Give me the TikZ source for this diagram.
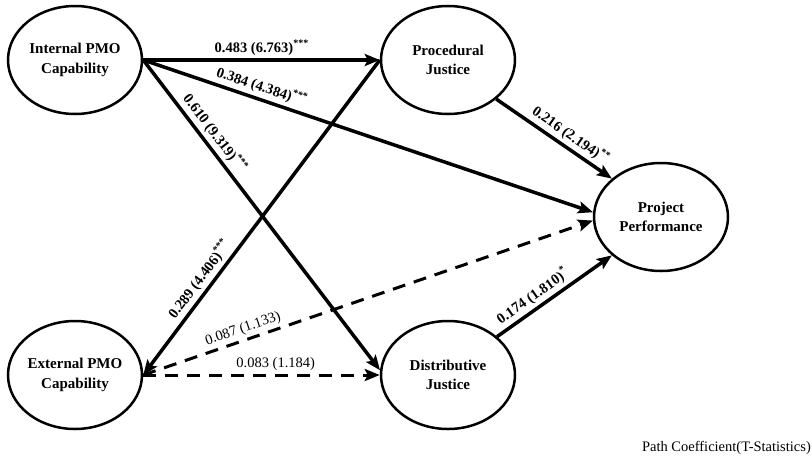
\documentclass[tikz,border=0pt]{standalone}
\usepackage{fontspec}
\setmainfont{Liberation Serif}
\usetikzlibrary{shapes.geometric,arrows.meta}
\newcommand\sigstars[1]{\raisebox{0.42em}{\fontsize{10}{10}\selectfont #1}}
\begin{document}
\begin{tikzpicture}[x=1pt,y=-1pt,
  construct/.style={ellipse,draw,line width=2.5pt,minimum width=134pt,minimum height=108pt,
    inner sep=0pt,align=center,font=\bfseries\fontsize{15}{19.5}\selectfont},
  tipA/.tip={Stealth[length=15pt,width=12pt,inset=3pt]},
  sigpath/.style={line width=3.5pt,-tipA},
  sigback/.style={line width=3.5pt,tipA-},
  nspath/.style={line width=3pt,dash pattern=on 13pt off 9pt,-tipA},
  coef/.style={font=\bfseries\fontsize{14.5}{16}\selectfont,sloped,above,inner sep=3pt},
  ncoef/.style={font=\fontsize{14.5}{16}\selectfont,sloped,above,inner sep=3pt}
]
\useasboundingbox (0,0) rectangle (812,464);
\node[construct] (ipmo) at (75,60) {Internal PMO\\Capability};
\node[construct] (pj) at (448,60) {Procedural\\Justice};
\node[construct] (pp) at (661,217) {Project\\Performance};
\node[construct] (epmo) at (75,375) {External PMO\\Capability};
\node[construct] (dj) at (448,375) {Distributive\\Justice};

\draw[sigpath] (ipmo.east) -- node[coef,pos=0.5]{0.483 (6.763)\sigstars{***}} (pj.west);
\draw[sigpath] (ipmo.east) -- node[coef,pos=0.254]{0.384 (4.384)\sigstars{***}} (pp.176);
\draw[sigpath] (ipmo.east) -- node[coef,pos=0.26]{0.610 (9.319)\sigstars{***}} (dj.176);
\draw[sigback] (epmo.east) -- node[coef,pos=0.28]{0.289 (4.406)\sigstars{***}} (pj.west);
\draw[nspath] (epmo.east) -- node[ncoef,pos=0.23]{0.087 (1.133)} (pp.183);
\draw[nspath] (epmo.east) -- node[ncoef,pos=0.56]{0.083 (1.184)} (dj.west);
\draw[sigpath] (pj.-39) -- node[coef,pos=0.58]{0.216 (2.194)\sigstars{**}} (pp.142);
\draw[sigpath] (dj.38) -- node[coef,pos=0.37]{0.174 (1.810)\sigstars{*}} (pp.218);

\node[anchor=base east,inner sep=0pt,font=\fontsize{14.5}{16}\selectfont] (legend) at (811,451) {Path Coefficient(T-Statistics)};
\end{tikzpicture}
\end{document}
